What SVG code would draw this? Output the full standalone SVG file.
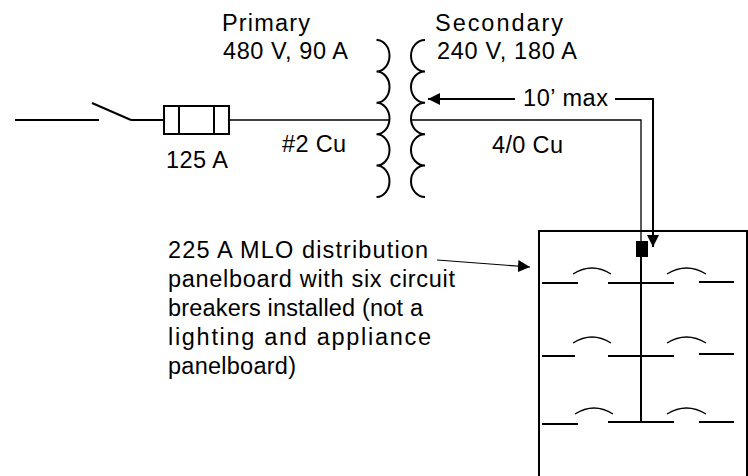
<svg xmlns="http://www.w3.org/2000/svg" width="748" height="476" viewBox="0 0 748 476">
<defs>
<style>
.t{font-family:"Liberation Sans",Arial,sans-serif;font-size:23.5px;fill:#000}
.w{stroke:#000;stroke-width:2;fill:none}
.c{stroke:#000;stroke-width:1.3;fill:none}
.a{stroke:#000;stroke-width:1.2;fill:none}
</style>
<marker id="ah" viewBox="0 0 12 12" refX="12" refY="6" markerWidth="12" markerHeight="12" markerUnits="userSpaceOnUse" orient="auto">
<path d="M0,0 L12,6 L0,12 Z" fill="#000"/>
</marker>
</defs>
<rect width="748" height="476" fill="#fff"/>
<g id="source">
<line class="w" x1="15" y1="120" x2="99" y2="120"/>
<line class="w" x1="92" y1="103" x2="131" y2="120"/>
<line class="w" x1="131" y1="120" x2="164" y2="120"/>
</g>
<g id="fuse">
<rect class="w" x="164" y="106" width="65" height="28"/>
<line class="w" x1="179" y1="106" x2="179" y2="134"/>
<line class="w" x1="214" y1="106" x2="214" y2="134"/>
<text class="t" x="166" y="168" textLength="62" lengthAdjust="spacing">125 A</text>
</g>
<g id="transformer">
<path class="w" d="M376.5,40 a13 15.7 0 0 1 0 31.4 a13 15.7 0 0 1 0 31.4 a13 15.7 0 0 1 0 31.4 a13 15.7 0 0 1 0 31.4 a13 15.7 0 0 1 0 31.4"/>
<path class="w" d="M425,40 a14 15.7 0 0 0 0 31.4 a14 15.7 0 0 0 0 31.4 a14 15.7 0 0 0 0 31.4 a14 15.7 0 0 0 0 31.4 a14 15.7 0 0 0 0 31.4"/>
<text class="t" x="222" y="31" textLength="88" lengthAdjust="spacing">Primary</text>
<text class="t" x="223" y="59" textLength="125" lengthAdjust="spacing">480 V, 90 A</text>
<text class="t" x="435" y="31" textLength="128" lengthAdjust="spacing">Secondary</text>
<text class="t" x="437" y="59" textLength="140" lengthAdjust="spacing">240 V, 180 A</text>
</g>
<g id="panel">
<rect class="w" x="539" y="231" width="208" height="260"/>
<rect x="636" y="241" width="12" height="16" fill="#000"/>
<line class="w" x1="641" y1="257" x2="641" y2="423"/>
<g id="breakers">
<line class="w" x1="542" y1="283" x2="578" y2="283"/>
<path class="c" d="M573,274 Q592,262 611,274"/>
<line class="w" x1="608" y1="283" x2="674" y2="283"/>
<path class="c" d="M667,274 Q686.5,262 706,274"/>
<line class="w" x1="699" y1="282" x2="734" y2="282"/>
<line class="w" x1="542" y1="356" x2="575" y2="356"/>
<path class="c" d="M573,343 Q592,331 611,343"/>
<line class="w" x1="608" y1="356" x2="674" y2="356"/>
<path class="c" d="M667,343 Q686.5,331 706,343"/>
<line class="w" x1="699" y1="354" x2="734" y2="354"/>
<line class="w" x1="542" y1="424" x2="578" y2="424"/>
<path class="c" d="M575,414 Q594,402 613,414"/>
<line class="w" x1="608" y1="422" x2="674" y2="422"/>
<path class="c" d="M667,414 Q686.5,402 706,414"/>
<line class="w" x1="699" y1="422" x2="734" y2="422"/>
</g>
</g>
<g id="note">
<text class="t" x="168" y="258" textLength="260" lengthAdjust="spacing">225 A MLO distribution</text>
<text class="t" x="168" y="287" textLength="287" lengthAdjust="spacing">panelboard with six circuit</text>
<text class="t" x="168" y="316" textLength="255" lengthAdjust="spacing">breakers installed (not a</text>
<text class="t" x="168" y="345" textLength="263" lengthAdjust="spacing">lighting and appliance</text>
<text class="t" x="168" y="374" textLength="128" lengthAdjust="spacing">panelboard)</text>
</g>
<g id="connectors">
<line class="c" x1="229" y1="120" x2="389" y2="120"/>
<polyline class="c" points="411,120 641,120 641,241"/>
<line class="w" x1="515" y1="99" x2="428" y2="99" marker-end="url(#ah)"/>
<polyline class="w" points="615,99 653,99 653,247" marker-end="url(#ah)"/>
<line class="a" x1="437" y1="260" x2="530" y2="267" marker-end="url(#ah)"/>
<text class="t" x="282" y="152" textLength="64" lengthAdjust="spacing">#2 Cu</text>
<text class="t" x="492" y="153" textLength="71" lengthAdjust="spacing">4/0 Cu</text>
<text class="t" x="523" y="106" textLength="85" lengthAdjust="spacing">10’ max</text>
</g>
</svg>
